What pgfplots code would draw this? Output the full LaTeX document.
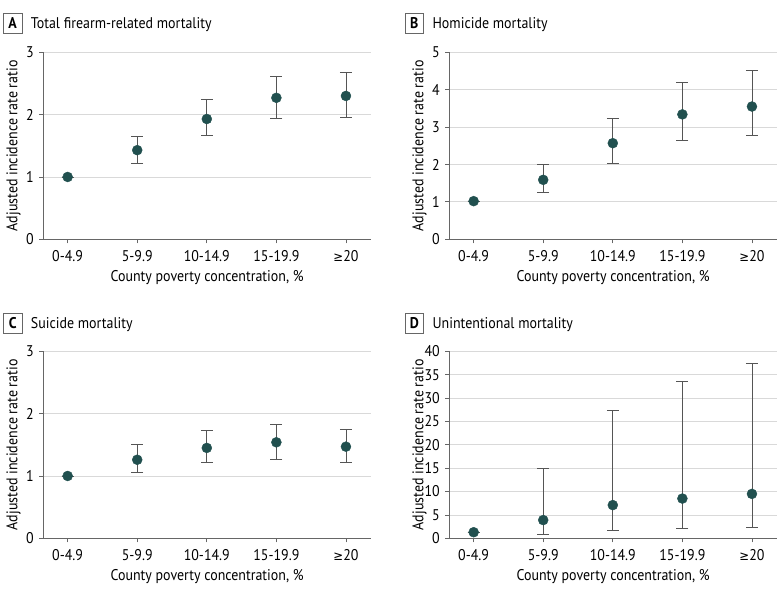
\documentclass[border=0pt]{standalone}
\usepackage{pgfplots}
\pgfplotsset{compat=1.18}
\usepackage{fontspec}
\setmainfont{PT Sans}[FakeStretch=0.9]
\newfontfamily\dejavu{DejaVu Sans}[FakeStretch=0.9]
\definecolor{teal}{HTML}{21504F}
\definecolor{errc}{HTML}{555555}
\definecolor{gridc}{HTML}{D9D9D9}
\definecolor{axc}{HTML}{666666}
\newcommand{\fs}{\fontsize{15.5}{18}\selectfont}
\pgfplotsset{
  panel/.style={
    scale only axis, width=327.7pt, height=187pt,
    xmin=-0.35, xmax=4.36, ymin=0,
    axis x line*=bottom, axis y line*=left,
    axis line style={axc, line width=0.8pt},
    xtick={0,1,2,3,4},
    xticklabels={0-4.9,5-9.9,10-14.9,15-19.9,{\dejavu\fontsize{13}{15}\selectfont ≥}20},
    tick align=outside,
    major tick length=4pt,
    tick style={axc, line width=0.8pt},
    ymajorgrids, grid style={gridc, line width=0.8pt},
    tick label style={font=\fs, text=black},
    xticklabel style={yshift=-4pt},
    yticklabel style={xshift=-2pt},
    /pgf/number format/assume math mode=true,
    xlabel={County poverty concentration, \%},
    ylabel={Adjusted incidence rate ratio},
    label style={font=\fs},
    xlabel style={at={(axis description cs:0.5,-0.228)}, anchor=base},
    ylabel style={at={(axis description cs:-0.0794,0.5)}, anchor=base},
    clip=false,
  },
  pts/.style={only marks, mark=*, mark size=5pt, mark options={fill=teal, draw=teal},
    error bars/.cd, y dir=both, y explicit, error bar style={errc, line width=0.8pt},
    error mark options={rotate=90, mark size=6pt, errc, line width=0.8pt}},
}
\newcommand{\paneltitle}[4]{%
  \draw[axc, line width=0.8pt] (#1+3.3pt,#2-13.3pt) rectangle (#1+22pt,#2-33.3pt);
  \node[font=\fs\bfseries, inner sep=0pt] at (#1+12.65pt,#2-23.3pt) {#3};
  \node[anchor=base west, font=\fs, inner sep=0pt] at (#1+30.7pt,#2-28.5pt) {#4};
}
\begin{document}
\begin{tikzpicture}[x=1pt,y=1pt]
% Panel A
\begin{axis}[panel, at={(43.3pt,-239.3pt)}, anchor=south west, ymax=3, ytick={0,1,2,3}]
\addplot+[pts] coordinates {
 (0,1.00) +- (0,0)
 (1,1.43) += (0,0.22) -= (0,0.21)
 (2,1.93) += (0,0.32) -= (0,0.26)
 (3,2.27) += (0,0.34) -= (0,0.33)
 (4,2.30) += (0,0.38) -= (0,0.34)
};
\end{axis}
% Panel B
\begin{axis}[panel, at={(449.3pt,-239.3pt)}, anchor=south west, ymax=5, ytick={0,1,2,3,4,5}]
\addplot+[pts] coordinates {
 (0,1.02) +- (0,0)
 (1,1.59) += (0,0.41) -= (0,0.33)
 (2,2.57) += (0,0.67) -= (0,0.54)
 (3,3.34) += (0,0.86) -= (0,0.69)
 (4,3.55) += (0,0.96) -= (0,0.76)
};
\end{axis}
% Panel C
\begin{axis}[panel, at={(43.3pt,-538.3pt)}, anchor=south west, ymax=3, ytick={0,1,2,3}]
\addplot+[pts] coordinates {
 (0,1.00) +- (0,0)
 (1,1.26) += (0,0.24) -= (0,0.21)
 (2,1.45) += (0,0.28) -= (0,0.24)
 (3,1.54) += (0,0.29) -= (0,0.27)
 (4,1.47) += (0,0.28) -= (0,0.26)
};
\end{axis}
% Panel D
\begin{axis}[panel, at={(449.3pt,-538.3pt)}, anchor=south west, ymax=40, ytick={0,5,...,40}]
\addplot+[pts] coordinates {
 (0,1.3) +- (0,0)
 (1,3.9) += (0,11.0) -= (0,3.0)
 (2,7.1) += (0,20.3) -= (0,5.4)
 (3,8.5) += (0,25.1) -= (0,6.45)
 (4,9.5) += (0,28.0) -= (0,7.2)
};
\end{axis}
\paneltitle{0}{0}{A}{Total firearm-related mortality}
\paneltitle{401.7}{0}{B}{Homicide mortality}
\paneltitle{0}{-300}{C}{Suicide mortality}
\paneltitle{401.7}{-300}{D}{Unintentional mortality}
\pgfresetboundingbox
\path[use as bounding box] (0,0) rectangle (780pt,-593pt);
\end{tikzpicture}
\end{document}
